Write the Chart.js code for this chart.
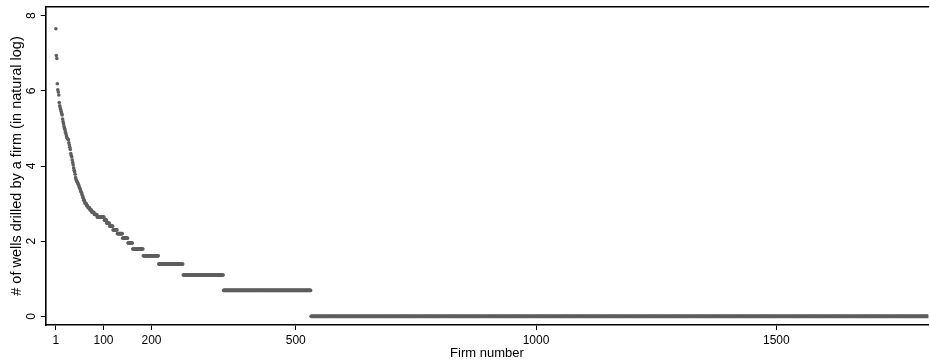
<!DOCTYPE html>
<html>
<head>
<meta charset="utf-8">
<script src="https://cdn.jsdelivr.net/npm/chart.js@4"></script>
<style>
  html, body { margin: 0; padding: 0; background: #fff; overflow: hidden; }
  #wrap { position: relative; width: 930px; height: 362px; }
</style>
</head>
<body>
<div id="wrap"><canvas id="wellsChart"></canvas></div>
<script>
// Firms ranked by wells drilled; y = ln(# wells). Top firms read one by one,
// the long tail read as flat runs (value + last firm number of the run).
var steepLogWells = [
  7.65, 6.94, 6.86, 6.19, 6.03, 5.97, 5.89, 5.69, 5.60, 5.55,
  5.50, 5.45, 5.40, 5.36, 5.25, 5.18, 5.12, 5.05, 5.00, 4.96,
  4.90, 4.85, 4.80, 4.75, 4.73, 4.71, 4.70, 4.62, 4.56, 4.50,
  4.44, 4.33, 4.28, 4.24, 4.16, 4.09, 4.03, 3.95, 3.89, 3.85,
  3.78, 3.69, 3.64, 3.61, 3.58, 3.56, 3.53, 3.50, 3.47, 3.43,
  3.40, 3.37, 3.33, 3.30, 3.26, 3.22, 3.18, 3.14, 3.09, 3.09,
  3.04, 3.00, 3.00, 3.00, 2.94, 2.94, 2.94, 2.89, 2.89, 2.89,
  2.89, 2.83, 2.83, 2.83, 2.83, 2.77, 2.77, 2.77, 2.77, 2.77,
  2.71, 2.71, 2.71, 2.71, 2.71, 2.71
];
var runLogWells  = [2.64, 2.56, 2.48, 2.40, 2.30, 2.20, 2.08, 1.95, 1.79, 1.61, 1.39, 1.10, 0.69, 0];
var runLastFirm  = [101,  106,  112,  119,  128,  139,  150,  160,  182,  214,  265,  349,  531,  1816];

var xTickValues = [1, 100, 200, 500, 1000, 1500];
var yTickValues = [0, 2, 4, 6, 8];

var points = [];
steepLogWells.forEach(function(v, i){ points.push({x: i + 1, y: v}); });
var firm = steepLogWells.length + 1;
runLogWells.forEach(function(v, k){
  for (; firm <= runLastFirm[k]; firm++) points.push({x: firm, y: v});
});

var FONT = '"Liberation Sans", Arial, Helvetica, sans-serif';
var ink = '#000';

// Scales get no extra edge padding — the frame sits where the original puts it
function noEdgePadding(s){ s.paddingTop = 0; s.paddingBottom = 0; s.paddingLeft = 0; s.paddingRight = 0; }

new Chart(document.getElementById('wellsChart'), {
  type: 'scatter',
  data: {
    datasets: [{
      label: 'ln wells',
      data: points,
      pointRadius: 1.8,
      pointHoverRadius: 1.8,
      pointBorderWidth: 0,
      backgroundColor: '#5e5e5e',
      borderColor: '#5e5e5e'
    }]
  },
  options: {
    responsive: true,
    maintainAspectRatio: false,
    animation: false,
    events: [],
    layout: { padding: { top: 7, right: 0, bottom: 0, left: 0 } },
    plugins: { legend: { display: false }, tooltip: { enabled: false } },
    scales: {
      x: {
        type: 'linear',
        position: 'bottom',
        min: -20.2,
        max: 1816,
        afterBuildTicks: function(s){ s.ticks = xTickValues.map(function(v){ return {value: v}; }); },
        afterFit: function(s){ s.height = 37; noEdgePadding(s); },
        ticks: { autoSkip: false, maxRotation: 0, color: ink, padding: 3,
                 callback: function(v){ return String(v); },
                 font: { family: FONT, size: 12 } },
        grid: { drawOnChartArea: false, drawTicks: true, tickLength: 5, color: ink, lineWidth: 1 },
        border: { display: true, color: ink, width: 1.6 },
        title: { display: true, text: 'Firm number', color: ink,
                 font: { family: FONT, size: 13 }, padding: { top: 0, bottom: 1 } }
      },
      xTop: {
        type: 'linear',
        position: 'top',
        min: 0, max: 1,
        afterFit: function(s){ s.height = 0; noEdgePadding(s); },
        ticks: { display: false },
        grid: { display: false },
        border: { display: true, color: ink, width: 1.6 }
      },
      y: {
        type: 'linear',
        min: -0.23,
        max: 8.23,
        afterBuildTicks: function(s){ s.ticks = yTickValues.map(function(v){ return {value: v}; }); },
        afterFit: function(s){ s.width = 45.7; noEdgePadding(s); },
        ticks: { autoSkip: false, minRotation: 90, maxRotation: 90, crossAlign: 'center',
                 color: ink, padding: 6, font: { family: FONT, size: 12 } },
        grid: { drawOnChartArea: false, drawTicks: true, tickLength: 5, color: ink, lineWidth: 1 },
        border: { display: true, color: ink, width: 1.6 },
        title: { display: true, text: '# of wells drilled by a firm (in natural log)', color: ink,
                 font: { family: FONT, size: 14.5 }, padding: { top: 8, bottom: 0 } }
      }
    }
  }
});
</script>
</body>
</html>
